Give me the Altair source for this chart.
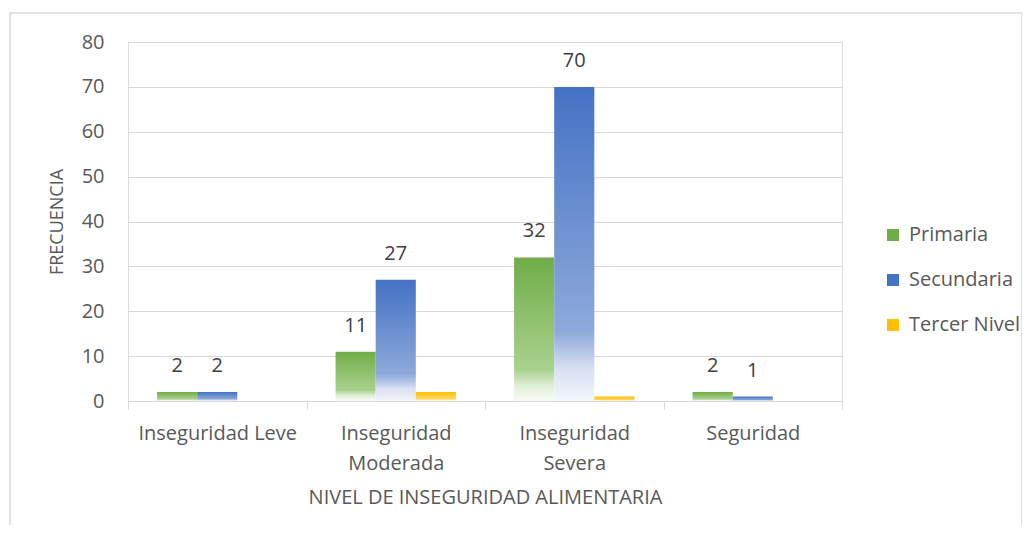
import altair as alt
import pandas as pd

categories = ["Inseguridad Leve", "Inseguridad Moderada", "Inseguridad Severa", "Seguridad"]
series = ["Primaria", "Secundaria", "Tercer Nivel"]
primaria = [2, 11, 32, 2]
secundaria = [2, 27, 70, 1]
tercer_nivel = [0, 2, 1, 0]
colors = ["#70AD47", "#4472C4", "#FFC000"]
light1 = ["#A9D18E", "#8EA9DB", "#FFD966"]
light2 = ["#E2EFDA", "#D9E1F2", "#FFF2CC"]
light3 = ["#F8FBF5", "#F3F6FC", "#FFFBEF"]

rows = []
for s, vals in zip(series, [primaria, secundaria, tercer_nivel]):
    for c, v in zip(categories, vals):
        rows.append({"cat": c, "serie": s, "valor": v})
df = pd.DataFrame(rows)

W, H = 714, 359
FONT = "Open Sans"
TXT = "#595959"

xenc = alt.X("cat:N", sort=categories,
             scale=alt.Scale(paddingInner=0, paddingOuter=0),
             axis=alt.Axis(title="NIVEL DE INSEGURIDAD ALIMENTARIA", labelAngle=0,
                           labelExpr="!isValid(datum.value) ? '' : (datum.value == 'Inseguridad Leve' ? datum.value : split(datum.value, ' '))",
                           labelLineHeight=30, labelFontSize=20, labelColor=TXT,
                           titleFontSize=20, titleColor=TXT, titleFontWeight="normal",
                           titlePadding=14, tickBand="extent",
                           tickSize=8, labelPadding=14, domainColor="#D9D9D9",
                           tickColor="#D9D9D9", grid=False, labelFont=FONT, titleFont=FONT))
xoff = alt.XOffset("serie:N", sort=series,
                   scale=alt.Scale(domain=series, paddingOuter=0.725, paddingInner=0))
yenc = alt.Y("valor:Q",
             scale=alt.Scale(domain=[0, 80]),
             axis=alt.Axis(title="FRECUENCIA", values=[0, 10, 20, 30, 40, 50, 60, 70, 80],
                           labelFontSize=20, labelColor=TXT, titleFontSize=18,
                           titleColor=TXT, titleFontWeight="normal", titlePadding=15,
                           labelPadding=24, domain=False, ticks=False,
                           gridColor="#D9D9D9", labelFont=FONT, titleFont=FONT))

base = alt.Chart(df)

layers = []
frame = alt.Chart(alt.Data(values=[{}])).mark_rect(
    fill=None, stroke="#D9D9D9", strokeWidth=1.5
).encode(x=alt.value(-118), x2=alt.value(894), y=alt.value(-29), y2=alt.value(600))
layers.append(frame)

for s, c, l1, l2, l3 in zip(series, colors, light1, light2, light3):
    grad = alt.Gradient(
        gradient="linear",
        stops=[alt.GradientStop(offset=0, color=c),
               alt.GradientStop(offset=0.78, color=l1),
               alt.GradientStop(offset=0.9, color=l2),
               alt.GradientStop(offset=1, color=l3)],
        x1=0, x2=0, y1=0, y2=1)
    layers.append(
        base.transform_filter(alt.datum.serie == s)
        .mark_bar(color=grad)
        .encode(x=xenc, xOffset=xoff, y=yenc)
    )

legend_layer = base.mark_bar().encode(
    x=xenc, xOffset=xoff, y=alt.datum(0),
    color=alt.Color("serie:N", sort=series,
                    scale=alt.Scale(domain=series, range=colors),
                    legend=alt.Legend(title=None, orient="none", legendX=755, legendY=183,
                                      symbolType="square", symbolSize=144,
                                      symbolStrokeWidth=0, labelFontSize=20,
                                      labelColor=TXT, labelFont=FONT, labelOffset=6,
                                      rowPadding=25))
)
layers.append(legend_layer)

labels = base.transform_filter(alt.datum.serie != "Tercer Nivel").mark_text(
    fontSize=20, font=FONT, color="#404040", baseline="middle", dy=-26
).encode(x=xenc, xOffset=xoff, y=yenc, text="valor:Q")
layers.append(labels)

chart = alt.layer(*layers).properties(
    width=W, height=H,
    autosize=alt.AutoSizeParams(type="none"),
    padding={"left": 120, "top": 34, "right": 180, "bottom": 124},
).configure_view(stroke=None).configure(background="white")

chart.save("out.html", embed_options={"renderer": "svg", "actions": False})
